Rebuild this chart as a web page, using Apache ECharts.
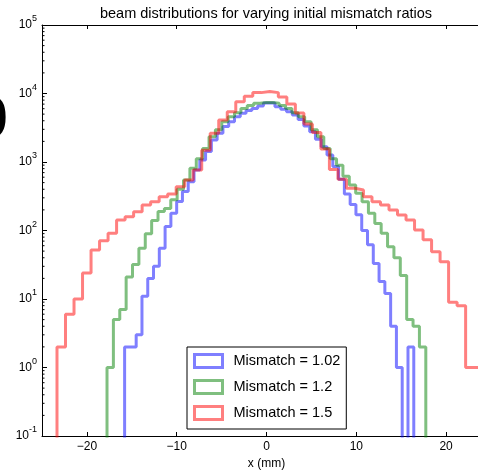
<!DOCTYPE html>
<html>
<head>
<meta charset="utf-8">
<script src="https://cdn.jsdelivr.net/npm/echarts@6/dist/echarts.min.js"></script>
<style>
html, body { margin: 0; padding: 0; background: #fff; }
#chart { width: 478px; height: 476px; }
</style>
</head>
<body>
<div id="chart"></div>
<script>
var titleText = 'beam distributions for varying initial mismatch ratios';
var xTicks = [-20, -10, 0, 10, 20];
var seriesNames = ['Mismatch = 1.02', 'Mismatch = 1.2', 'Mismatch = 1.5'];
var seriesColors = ['rgba(0,0,255,0.5)', 'rgba(0,128,0,0.5)', 'rgba(255,0,0,0.5)'];

// 50 bins per histogram: first bin edge and bin width (mm)
var blueStart = -15.8, blueWidth = 0.644;
var greenStart = -17.76, greenWidth = 0.71;
var redStart = -23.33, redWidth = 0.948;

var blueCounts = [2, 2, 3, 11, 20, 30, 55, 114, 178, 265, 370, 516, 766, 1070, 1420, 2090, 2630, 3300, 3880, 4580,
    5130, 5640, 6060, 6570, 7250, 7250, 6420, 5880, 5420, 4850, 4180, 3360, 2760, 2140, 1670, 1260, 860, 560, 340, 240,
    170, 100, 62, 33, 18, 12, 4, 1, 0, 2];
var greenCounts = [1, 5, 7, 21, 32, 55, 90, 140, 190, 210, 280, 400, 548, 810, 1120, 1580, 2340, 2950, 3880, 4580,
    5250, 6060, 6700, 7200, 7400, 7400, 7200, 6700, 6060, 5250, 4580, 3880, 2950, 2340, 1580, 1120, 900, 620, 460, 350,
    263, 178, 127, 91, 58, 40, 22, 5, 4, 2];
var redCounts = [2, 6, 10, 24, 52, 71, 91, 142, 159, 188, 236, 263, 312, 340, 436, 548, 766, 1490, 2630, 4100,
    5420, 7600, 9150, 10300, 10700, 10300, 8900, 7000, 5200, 3600, 2700, 1550, 780, 560, 413, 390, 312, 263, 236, 199,
    168, 142, 102, 73, 49, 35, 9, 8, 1, 1];

var FLOOR = 0.01; // empty bins go below the axis
var fontFam = '"Liberation Sans", Arial, sans-serif';

function stepData(start, width, counts) {
    var pts = [[start, FLOOR]];
    for (var i = 0; i < counts.length; i++) {
        pts.push([start + i * width, counts[i] > 0 ? counts[i] : FLOOR]);
    }
    pts.push([start + counts.length * width, FLOOR]);
    return pts;
}

// matplotlib-like minor ticks on the log axis
var minorTicks = [];
for (var d = -1; d < 5; d++) {
    for (var m = 2; m < 10; m++) minorTicks.push([-25, m * Math.pow(10, d)]);
}

function lineSeries(name, color, data) {
    return {
        name: name, type: 'line', step: 'end', symbol: 'none',
        lineStyle: { color: color, width: 3 },
        itemStyle: { color: color },
        data: data, z: 3
    };
}

var chart = echarts.init(document.getElementById('chart'));
chart.setOption({
    animation: false,
    textStyle: { fontFamily: fontFam },
    grid: { left: 42, top: 25, bottom: 40, right: -13, show: false, outerBoundsMode: 'none', containLabel: false },
    graphic: [
        { type: 'text', x: 266, y: 14, style: { text: titleText, fontSize: 14.5, fill: '#000', align: 'center', verticalAlign: 'middle', fontFamily: fontFam } },
        { type: 'text', x: 8, y: 121, style: { text: '0', fontSize: 58, fontWeight: 'bold', fill: '#000', align: 'right', verticalAlign: 'middle', fontFamily: fontFam } }
    ],
    legend: {
        orient: 'vertical', left: 187, top: 347,
        padding: [6, 6, 8, 6], itemGap: 10, itemWidth: 28, itemHeight: 13,
        borderColor: '#000', borderWidth: 1, borderRadius: 0, backgroundColor: '#fff',
        icon: 'rect',
        textStyle: { fontSize: 14.5, color: '#000', fontFamily: fontFam, padding: [0, 0, 0, 6] },
        data: seriesNames.map(function (n, i) {
            return { name: n, itemStyle: { color: 'rgba(0,0,0,0)', borderColor: seriesColors[i], borderWidth: 3 } };
        })
    },
    xAxis: [{
        type: 'value', min: -25, max: 25,
        name: 'x (mm)', nameLocation: 'middle', nameGap: 22,
        nameTextStyle: { fontSize: 12, color: '#000', fontFamily: fontFam },
        axisLine: { onZero: false, lineStyle: { color: '#000', width: 1 } },
        axisTick: { inside: true, length: 4, customValues: xTicks, lineStyle: { color: '#000' } },
        axisLabel: {
            customValues: xTicks, margin: 5, fontSize: 12, color: '#000',
            formatter: function (v) { return String(v).replace('-', '\u2212'); }
        },
        splitLine: { show: false }
    }, {
        type: 'value', min: -25, max: 25, position: 'top',
        axisLine: { show: true, onZero: false, lineStyle: { color: '#000', width: 1 } },
        axisTick: { inside: true, length: 4, customValues: xTicks, lineStyle: { color: '#000' } },
        axisLabel: { show: false },
        splitLine: { show: false }
    }],
    yAxis: {
        type: 'log', logBase: 10, min: 0.1, max: 100000, splitNumber: 6,
        axisLine: { show: true, onZero: false, lineStyle: { color: '#000', width: 1 } },
        axisTick: { inside: true, length: 5, lineStyle: { color: '#000' } },
        axisLabel: {
            margin: 5, color: '#000',
            formatter: function (v) {
                var e = Math.round(Math.log10(v));
                return '{b|10}{e|' + e + '}';
            },
            rich: {
                b: { fontSize: 12, color: '#000', verticalAlign: 'middle', fontFamily: fontFam },
                e: { fontSize: 9, color: '#000', verticalAlign: 'middle', padding: [0, 0, 12, 0], fontFamily: fontFam }
            }
        },
        splitLine: { show: false }
    },
    series: [
        lineSeries(seriesNames[0], seriesColors[0], stepData(blueStart, blueWidth, blueCounts)),
        lineSeries(seriesNames[1], seriesColors[1], stepData(greenStart, greenWidth, greenCounts)),
        lineSeries(seriesNames[2], seriesColors[2], stepData(redStart, redWidth, redCounts)),
        {
            type: 'custom', silent: true, data: minorTicks, z: 4,
            renderItem: function (params, api) {
                var p = api.coord([api.value(0), api.value(1)]);
                return { type: 'line', shape: { x1: p[0], y1: p[1], x2: p[0] + 2.5, y2: p[1] }, style: { stroke: '#000', lineWidth: 1 } };
            }
        }
    ]
});
</script>
</body>
</html>
